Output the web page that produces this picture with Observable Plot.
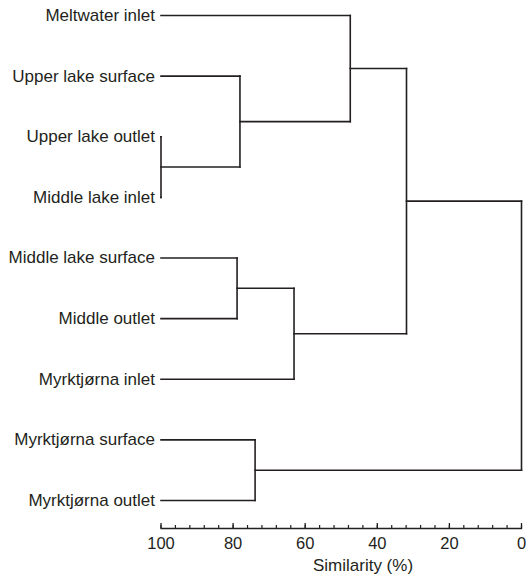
<!DOCTYPE html>
<html><head><meta charset="utf-8">
<script src="https://cdn.jsdelivr.net/npm/d3@7"></script>
<script src="https://cdn.jsdelivr.net/npm/@observablehq/plot@0.6"></script>
<style>body{margin:0;background:#fff} svg{display:block}</style>
</head><body><div id="chart"></div>
<script>
// Leaves, top to bottom
const leaves = ["Meltwater inlet","Upper lake surface","Upper lake outlet","Middle lake inlet","Middle lake surface","Middle outlet","Myrktjørna inlet","Myrktjørna surface","Myrktjørna outlet"];
// Merges m1..m8: left child, right child, similarity (%) at which they join
const mergeLeft  = ["Upper lake outlet","Upper lake surface","Meltwater inlet","Middle lake surface","m4","m3","Myrktjørna surface","m6"];
const mergeRight = ["Middle lake inlet","m1","m2","Middle outlet","Myrktjørna inlet","m5","Myrktjørna outlet","m7"];
const mergeSimilarity = [100, 78.1, 47.5, 78.9, 63.1, 31.9, 73.9, 0];
const majorTicks = [100, 80, 60, 40, 20, 0];
const minorTicks = d3.range(0, 101, 4);
const axisTitle = "Similarity (%)";

// Build node positions (x = similarity, y = leaf order)
const nodes = new Map(leaves.map((name, i) => [name, {x: 100, y: i}]));
const segments = [];
mergeLeft.forEach((a, k) => {
  const A = nodes.get(a), B = nodes.get(mergeRight[k]), s = mergeSimilarity[k];
  const n = {x: s, y: (A.y + B.y) / 2};
  nodes.set("m" + (k + 1), n);
  segments.push({x1: A.x, y1: A.y, x2: s, y2: A.y});
  segments.push({x1: B.x, y1: B.y, x2: s, y2: B.y});
  segments.push({x1: s, y1: A.y, x2: s, y2: B.y});
});

const ink = "#231f20";
const W = 526, H = 575, MB = 47;
const frameH = H - MB;

const chart = Plot.plot({
  width: W, height: H,
  marginTop: 0, marginLeft: 0, marginRight: 0, marginBottom: MB,
  x: {domain: [100, 0], range: [160.5, 521]},
  y: {domain: [0, leaves.length - 1], range: [15, 500], axis: null},
  style: {fontFamily: "'Liberation Sans', Arial, sans-serif", fontSize: "16px", color: ink, background: "#fff"},
  marks: [
    Plot.link(segments, {x1: "x1", y1: "y1", x2: "x2", y2: "y2", stroke: ink, strokeWidth: 1.6, strokeLinecap: "square"}),
    Plot.text(leaves, {x: () => 100, y: (d, i) => i, text: d => d, textAnchor: "end", dx: -6, fontSize: 17, fill: ink}),
    Plot.frame({anchor: "bottom", insetLeft: 160.5, insetRight: 5, stroke: ink, strokeWidth: 1.4}),
    Plot.tickX(minorTicks, {x: d => d, insetTop: frameH - 3, stroke: ink, strokeWidth: 1.2}),
    Plot.tickX(majorTicks, {x: d => d, insetTop: frameH - 5, stroke: ink, strokeWidth: 1.3}),
    Plot.axisX({ticks: majorTicks, tickSize: 0, tickPadding: 8.5, fontSize: 16.5, label: null, tickFormat: d => String(d)}),
    Plot.text([axisTitle], {frameAnchor: "bottom", dx: 99.5, dy: 37.5, fontSize: 17, fill: ink, lineAnchor: "middle"})
  ]
});
document.getElementById("chart").appendChild(chart);
</script>
</body></html>
